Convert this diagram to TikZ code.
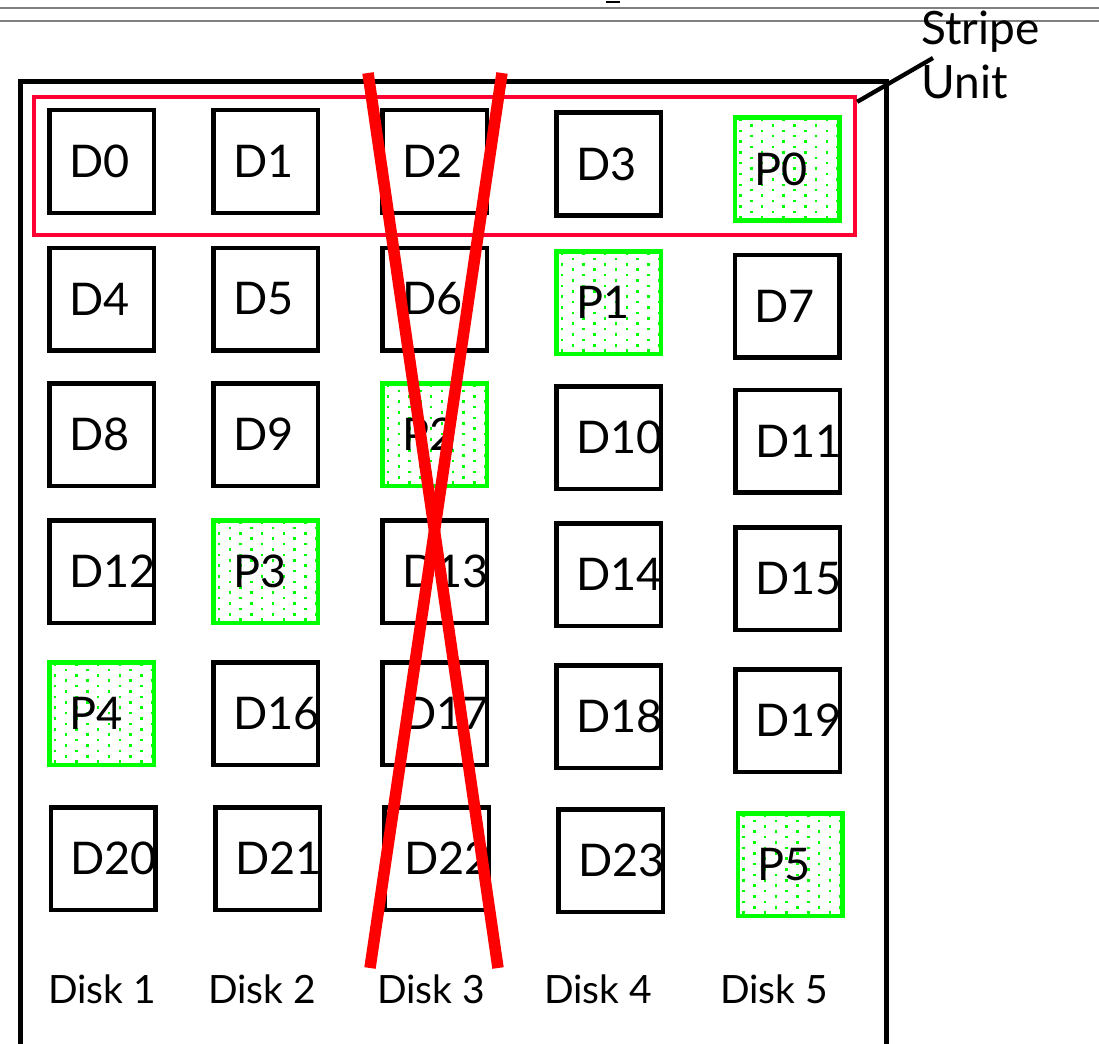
\documentclass[tikz,border=0pt]{standalone}
\usepackage{fontspec}
\setmainfont{Lato}
\definecolor{pgreen}{RGB}{0,255,0}
\definecolor{xred}{RGB}{255,0,0}
\definecolor{rred}{RGB}{255,0,51}
\definecolor{rulegray}{RGB}{128,128,128}
\newcommand\boxfont{\fontsize{45}{50}\selectfont}
\newcommand\diskfont{\fontsize{39}{44}\selectfont}
\newcommand\sufont{\fontsize{46}{54}\selectfont}
\tikzset{
  dbox/.style={draw=black, line width=4.5pt, minimum width=104.5pt, minimum height=102.5pt,
    inner xsep=19.75pt, inner ysep=0pt, text width=65pt, align=left, font=\boxfont},
  pbox/.style={dbox, draw=pgreen},
  disklabel/.style={anchor=base west, inner sep=0pt, font=\diskfont},
}
\newcommand\paritybox[4]{%
  \begin{scope}
    \clip (#2-52.5,#3-51.5) rectangle (#2+52.5,#3+51.5);
    \foreach \i in {0,...,9} {
      \foreach \j in {0,...,10} {
        \fill[pgreen] ({#2-54.5+8+10.8*\i-1.25},{#3-53.5+7+10.8*\j+5.4*mod(\i,2)-1.25}) rectangle +(2.5,-2.5);
      }
    }
  \end{scope}
  \node[pbox] (#1) at (#2,#3) {#4};
}
\begin{document}
\begin{tikzpicture}[x=1pt,y=-1pt]
\useasboundingbox (0,0) rectangle (1099,1043);
\clip (0,0) rectangle (1099,1043);
\fill[white] (0,0) rectangle (1099,1043);
% top rules
\draw[rulegray, line width=2pt] (0,8) -- (1099,8);
\draw[rulegray, line width=2pt] (0,21) -- (1099,21);
\draw[black, line width=2pt] (606,2) -- (620,2);
% outer frame
\draw[line width=5pt] (20,1060) -- (20,82) -- (886,82) -- (886,1060);
% stripe (red rectangle)
\node[draw=rred, line width=4.3pt, minimum width=821pt, minimum height=138pt, inner sep=0pt] (stripe) at (444.5,166) {};
% row 1
\node[dbox] (d0) at (101.5,161.5) {D0};
\node[dbox] (d1) at (265.5,161.5) {D1};
\node[dbox] (d2) at (434.5,161.5) {D2};
\node[dbox] (d3) at (608.5,164) {D3};
\paritybox{p0}{787}{169}{P0}
% row 2
\node[dbox] (d4) at (101.5,299) {D4};
\node[dbox] (d5) at (265.5,299) {D5};
\node[dbox] (d6) at (434.5,299) {D6};
\paritybox{p1}{608.5}{302.5}{P1}
\node[dbox] (d7) at (787,306) {D7};
% row 3
\node[dbox] (d8) at (101.5,434.5) {D8};
\node[dbox] (d9) at (265.5,434.5) {D9};
\paritybox{p2}{434.5}{434.5}{P2}
\node[dbox] (d10) at (608.5,437.5) {D10};
\node[dbox] (d11) at (787.5,441) {D11};
% row 4
\node[dbox] (d12) at (101.5,571.5) {D12};
\paritybox{p3}{265.5}{571.5}{P3}
\node[dbox] (d13) at (434.5,571.5) {D13};
\node[dbox] (d14) at (608.5,574.5) {D14};
\node[dbox] (d15) at (787.5,578.5) {D15};
% row 5
\paritybox{p4}{101.5}{713.5}{P4}
\node[dbox] (d16) at (265.5,713.5) {D16};
\node[dbox] (d17) at (434.5,713.5) {D17};
\node[dbox] (d18) at (608.5,716.5) {D18};
\node[dbox] (d19) at (787.5,720.5) {D19};
% row 6
\node[dbox] (d20) at (103,858.5) {D20};
\node[dbox] (d21) at (267.5,858.5) {D21};
\node[dbox] (d22) at (436.5,858.5) {D22};
\node[dbox] (d23) at (610.5,860.5) {D23};
\paritybox{p5}{790}{864.5}{P5}
% disk labels
\node[disklabel] (disk1) at (48,1003) {Disk 1};
\node[disklabel] (disk2) at (208,1003) {Disk 2};
\node[disklabel] (disk3) at (377,1003) {Disk 3};
\node[disklabel] (disk4) at (544,1003) {Disk 4};
\node[disklabel] (disk5) at (720,1003) {Disk 5};
% stripe unit label
\node[anchor=base west, inner sep=0pt, font=\sufont, align=left] (sulab) at (921,45) {Stripe};
\node[anchor=base west, inner sep=0pt, font=\sufont, align=left] (sulab2) at (921,99) {Unit};
\coordinate (suend) at (933,58);
\draw[line width=4.3pt] ([yshift=-7pt]stripe.north east) -- (suend);
% red cross
\coordinate (xa1) at (368,73);
\coordinate (xa2) at (498,968);
\coordinate (xb1) at (502,73);
\coordinate (xb2) at (370,968);
\draw[xred, line width=11.5pt] (xa1) -- (xa2);
\draw[xred, line width=11.5pt] (xb1) -- (xb2);
\end{tikzpicture}
\end{document}
